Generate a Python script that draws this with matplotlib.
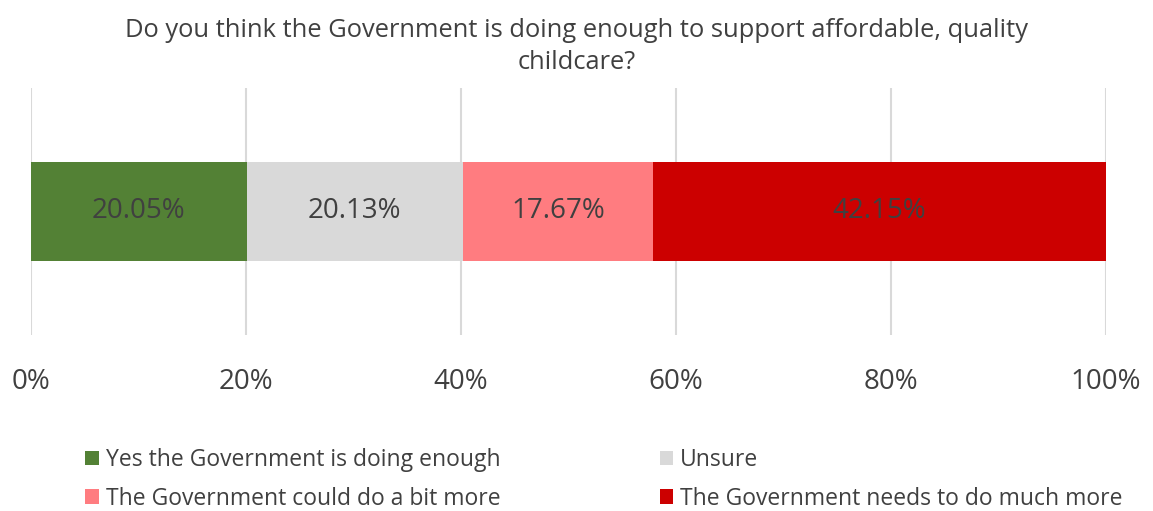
import matplotlib.pyplot as plt
from matplotlib.ticker import PercentFormatter

plt.rcParams['font.family'] = ['Open Sans', 'DejaVu Sans']

# survey answers and their shares (%)
categories = ['Yes the Government is doing enough', 'Unsure',
              'The Government could do a bit more', 'The Government needs to do much more']
values = [20.05, 20.13, 17.67, 42.15]
colors = ['#538135', '#d9d9d9', '#ff7c80', '#cc0000']
ticks = [0, 20, 40, 60, 80, 100]

fig = plt.figure(figsize=(11.53, 5.11), dpi=100)
ax = fig.add_axes([0.027, 0.345, 0.932, 0.483])

bars = []
left = 0
for cat, val, col in zip(categories, values, colors):
    b = ax.barh(0, val, left=left, height=0.4, color=col, label=cat, zorder=2)
    bars.append(b)
    ax.text(left + val / 2, 0, f'{val:.2f}%', ha='center', va='center',
            fontsize=20, color='#404040', zorder=3)
    left += val

ax.set_xlim(0, 100)
ax.set_ylim(-0.5, 0.5)
ax.set_xticks(ticks)
ax.xaxis.set_major_formatter(PercentFormatter(decimals=0))
ax.tick_params(axis='x', length=0, labelsize=20, labelcolor='#404040', pad=24)
ax.set_yticks([])
ax.grid(axis='x', color='#d9d9d9', linewidth=1.5, zorder=0)
for s in ax.spines.values():
    s.set_visible(False)

fig.suptitle('Do you think the Government is doing enough to support affordable, quality\nchildcare?',
             fontsize=18.4, color='#404040', y=0.965, linespacing=1.4)

# legend fills row by row in the reference
order = [0, 2, 1, 3]
fig.legend([bars[i] for i in order], [categories[i] for i in order],
           loc='lower left', bbox_to_anchor=(0.056, -0.04), ncol=2, frameon=False,
           fontsize=16.5, labelcolor='#404040', handlelength=0.6, handleheight=0.6,
           handletextpad=0.3, columnspacing=6.95, labelspacing=0.65)

fig.savefig('out.png', dpi=100)
